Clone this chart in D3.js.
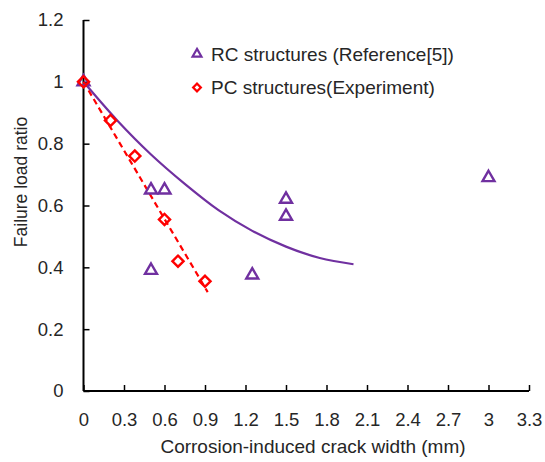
<!DOCTYPE html>
<html lang="en">
<head>
    <meta charset="UTF-8">
    <title>Failure load ratio vs crack width</title>
    <script src="https://d3js.org/d3.v7.min.js"></script>
    <style>
        body { margin: 0; background: #fff; }
        text { font-family: "Liberation Sans", Arial, sans-serif; fill: #262626; }
    </style>
</head>
<body>
    <svg width="545" height="462"></svg>
    <script>
        // Data
        const xTicks = [0, 0.3, 0.6, 0.9, 1.2, 1.5, 1.8, 2.1, 2.4, 2.7, 3, 3.3];
        const yTicks = [0, 0.2, 0.4, 0.6, 0.8, 1, 1.2];

        const rcWidth = [0, 0.5, 0.6, 0.5, 1.25, 1.5, 1.5, 3.0];
        const rcRatio = [1.0, 0.65, 0.65, 0.39, 0.375, 0.62, 0.565, 0.69];

        const pcWidth = [0, 0.2, 0.38, 0.6, 0.7, 0.9];
        const pcRatio = [1.0, 0.875, 0.76, 0.555, 0.42, 0.355];

        // RC trend curve, sampled from the drawn line
        const rcFitX = [0, 0.25, 0.5, 0.75, 1.0, 1.25, 1.5, 1.75, 2.0];
        const rcFitY = [1.0, 0.875, 0.765, 0.67, 0.585, 0.518, 0.467, 0.43, 0.41];

        // PC trend line end points
        const pcFitX = [0, 0.92];
        const pcFitY = [1.0, 0.32];

        const legendLabels = ["RC structures (Reference[5])", "PC structures(Experiment)"];

        const purple = "#7030a0";
        const red = "#ff0000";

        const margin = { top: 20, right: 16, bottom: 71, left: 83.5 };
        const height = 462 - margin.top - margin.bottom;

        const svg = d3.select("svg")
            .append("g")
            .attr("transform", `translate(${margin.left},${margin.top})`);

        const x = d3.scaleLinear().domain([0, 3.3]).range([0, 445.5]);
        const y = d3.scaleLinear().domain([0, 1.2]).range([height, 0]);

        // Axes (ticks point inward)
        const xAxis = svg.append("g")
            .attr("transform", `translate(0,${height})`)
            .call(d3.axisBottom(x).tickValues(xTicks).tickSize(-6).tickPadding(0).tickFormat(d3.format("~g")));
        xAxis.select(".domain").attr("d", `M0,0H${x(3.3)}`).attr("stroke", "#000").attr("stroke-width", 2);
        xAxis.selectAll(".tick line").attr("stroke", "#000").attr("stroke-width", 1.5);
        xAxis.selectAll(".tick text")
            .attr("y", 35).attr("dy", 0)
            .style("font-size", "18.5px").style("font-family", "Liberation Sans, Arial, sans-serif")
            .attr("fill", "#262626");

        const yAxis = svg.append("g")
            .call(d3.axisLeft(y).tickValues(yTicks).tickSize(-6).tickPadding(0).tickFormat(d3.format("~g")));
        yAxis.select(".domain").attr("d", `M0,${height}V0`).attr("stroke", "#000").attr("stroke-width", 2);
        yAxis.selectAll(".tick line").attr("stroke", "#000").attr("stroke-width", 1.5);
        yAxis.selectAll(".tick text")
            .attr("x", -20)
            .style("font-size", "18.5px").style("font-family", "Liberation Sans, Arial, sans-serif")
            .attr("fill", "#262626");

        // Axis titles
        svg.append("text")
            .attr("x", x(1.7))
            .attr("y", height + 62)
            .attr("text-anchor", "middle")
            .style("font-size", "19px")
            .text("Corrosion-induced crack width (mm)");

        svg.append("text")
            .attr("transform", `translate(${21 - margin.left},${182 - margin.top}) rotate(-90)`)
            .attr("text-anchor", "middle")
            .attr("dy", "0.35em")
            .style("font-size", "17.5px")
            .text("Failure load ratio");

        // Trend lines
        const line = d3.line().x(d => x(d[0])).y(d => y(d[1]));

        svg.append("path")
            .datum(d3.zip(rcFitX, rcFitY))
            .attr("fill", "none")
            .attr("stroke", purple)
            .attr("stroke-width", 2.2)
            .attr("d", line.curve(d3.curveCatmullRom));

        svg.append("path")
            .datum(d3.zip(pcFitX, pcFitY))
            .attr("fill", "none")
            .attr("stroke", red)
            .attr("stroke-width", 2.2)
            .attr("stroke-dasharray", "6,4")
            .attr("d", line.curve(d3.curveLinear));

        // Markers
        const tri = d3.symbol().type(d3.symbolTriangle).size(62);
        const dia = d3.symbol().type(d3.symbolSquare).size(62);

        svg.selectAll(".rc")
            .data(d3.zip(rcWidth, rcRatio))
            .enter().append("path")
            .attr("class", "rc")
            .attr("transform", d => `translate(${x(d[0])},${y(d[1])})`)
            .attr("d", tri)
            .attr("fill", "none")
            .attr("stroke", purple)
            .attr("stroke-width", 2.4);

        svg.selectAll(".pc")
            .data(d3.zip(pcWidth, pcRatio))
            .enter().append("path")
            .attr("class", "pc")
            .attr("transform", d => `translate(${x(d[0])},${y(d[1])}) rotate(45)`)
            .attr("d", dia)
            .attr("fill", "none")
            .attr("stroke", red)
            .attr("stroke-width", 2.4);

        // Legend
        const legend = svg.append("g").attr("transform", `translate(${197 - margin.left},${54 - margin.top})`);
        const legendSymbols = [d3.symbol().type(d3.symbolTriangle).size(34), d3.symbol().type(d3.symbolSquare).size(30)];
        const legendRotate = [0, 45];
        const legendColors = [purple, red];

        legendLabels.forEach((label, i) => {
            const row = legend.append("g").attr("transform", `translate(0,${i * 33.5})`);
            row.append("path")
                .attr("d", legendSymbols[i])
                .attr("transform", `rotate(${legendRotate[i]})`)
                .attr("fill", "none")
                .attr("stroke", legendColors[i])
                .attr("stroke-width", 2.2);
            row.append("text")
                .attr("x", 14)
                .attr("dy", "0.35em")
                .style("font-size", "19px")
                .text(label);
        });
    </script>
</body>
</html>
